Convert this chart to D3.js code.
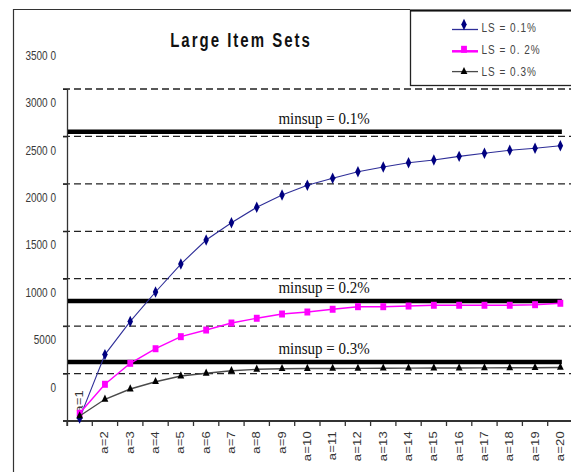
<!DOCTYPE html>
<html>
<head>
<meta charset="utf-8">
<script src="https://cdn.jsdelivr.net/npm/d3@7/dist/d3.min.js"></script>
<style>
  body { margin: 0; background: #fff; }
  svg { display: block; }
</style>
</head>
<body>
<div id="chartContainer"></div>
<script>
// categories along the x axis
const categories = ["a=1", "a=2", "a=3", "a=4", "a=5", "a=6", "a=7", "a=8", "a=9", "a=10",
  "a=11", "a=12", "a=13", "a=14", "a=15", "a=16", "a=17", "a=18", "a=19", "a=20"];

// series values
const ls01 = [300, 7000, 10500, 13600, 16550, 19080, 20900, 22530, 23820, 24850,
  25590, 26280, 26780, 27230, 27520, 27900, 28220, 28540, 28750, 29020];
const ls02 = [810, 3870, 6080, 7620, 8890, 9590, 10330, 10830, 11280, 11490,
  11780, 12050, 12050, 12120, 12200, 12200, 12200, 12200, 12260, 12410];
const ls03 = [530, 2290, 3370, 4140, 4740, 5030, 5300, 5450, 5510, 5530,
  5540, 5550, 5560, 5570, 5580, 5580, 5600, 5610, 5620, 5640];
const seriesNames = ["LS = 0.1%", "LS = 0. 2%", "LS = 0.3%"];

// minsup threshold lines
const minsupValues = [30500, 12650, 6220];
const minsupLabels = ["minsup = 0.1%", "minsup = 0.2%", "minsup = 0.3%"];

// y axis ticks and their (odd) labels
const yTickValues = [0, 5000, 10000, 15000, 20000, 25000, 30000, 35000];
const yTickLabels = ["0", "5000", "1000 0", "1500 0", "2000 0", "2500 0", "3000 0", "3500 0"];

const width = 571, height = 472;
const plot = { left: 67, right: 573, top: 89, bottom: 421 };
const font = "Arial, 'Liberation Sans', sans-serif";

const svg = d3.select("#chartContainer")
  .append("svg")
  .attr("width", width)
  .attr("height", height);

// Scales
const xScale = d3.scaleBand()
  .domain(categories)
  .range([plot.left, plot.right]);
const yScale = d3.scaleLinear()
  .domain([0, 35000])
  .range([plot.bottom, plot.top]);
const cx = (i) => xScale(categories[i]) + xScale.bandwidth() / 2;

// Outer frame
svg.append("path")
  .attr("d", "M13.5,472 V9.5 H410")
  .attr("fill", "none")
  .attr("stroke", "#333")
  .attr("stroke-width", 1.2);

// Title
svg.append("text")
  .attr("transform", "translate(241,47) scale(1,1.35)")
  .attr("text-anchor", "middle")
  .attr("font-family", font)
  .attr("font-weight", "bold")
  .attr("font-size", 15)
  .attr("letter-spacing", 2)
  .attr("fill", "#111")
  .text("Large Item Sets");

// Gridlines
svg.append("g")
  .selectAll("line")
  .data(yTickValues.slice(1))
  .enter()
  .append("line")
  .attr("x1", plot.left - 4)
  .attr("x2", width)
  .attr("y1", (d) => yScale(d))
  .attr("y2", (d) => yScale(d))
  .attr("stroke", "#222")
  .attr("stroke-width", 1.3)
  .attr("stroke-dasharray", "7,4");

// Y axis line
svg.append("g")
  .attr("transform", `translate(${plot.left},0)`)
  .call(d3.axisLeft(yScale).tickValues(yTickValues.slice(1)).tickSize(4).tickFormat("").tickSizeOuter(0))
  .call((g) => g.select(".domain").attr("stroke", "#333").attr("stroke-width", 1.3)
    .attr("d", `M0.5,${plot.top}V${plot.bottom + 5}`))
  .call((g) => g.selectAll(".tick line").attr("stroke", "#222"));

// Y labels (drawn shifted, as in the picture)
svg.append("g")
  .attr("transform", "translate(56,-34)")
  .call(d3.axisLeft(yScale).tickValues(yTickValues).tickSize(0).tickPadding(0)
    .tickFormat((d, i) => yTickLabels[i]))
  .call((g) => g.select(".domain").remove())
  .call((g) => g.selectAll("text")
    .attr("x", 0)
    .attr("dy", "0.32em")
    .attr("transform", "scale(1,1.3)")
    .attr("font-family", font)
    .attr("font-size", 10)
    .attr("fill", "#3a3a3a"));

// X axis
const xAxis = svg.append("g")
  .attr("transform", `translate(0,${plot.bottom})`)
  .call(d3.axisBottom(xScale).tickSize(0).tickPadding(0));
xAxis.select(".domain").remove();
xAxis.append("line")
  .attr("x1", plot.left - 4)
  .attr("x2", width)
  .attr("stroke", "#333")
  .attr("stroke-width", 2);
xAxis.selectAll(".boundary")
  .data(categories)
  .enter()
  .append("line")
  .attr("class", "boundary")
  .attr("x1", (d) => xScale(d))
  .attr("x2", (d) => xScale(d))
  .attr("y1", 0)
  .attr("y2", 5)
  .attr("stroke", "#333")
  .attr("stroke-width", 1.3);
xAxis.selectAll(".tick text")
  .attr("x", 0)
  .attr("y", 0)
  .attr("dy", "0.35em")
  .attr("text-anchor", "end")
  .attr("font-family", font)
  .attr("font-size", 10)
  .attr("letter-spacing", 0.2)
  .attr("fill", "#333")
  .attr("transform", (d, i) => i === 0
    ? "translate(0,-31) scale(1,1.3) rotate(-90)"
    : "translate(0,10) scale(1,1.3) rotate(-90)");

// Minsup lines
const minsupG = svg.append("g");
minsupG.selectAll("line")
  .data(minsupValues)
  .enter()
  .append("line")
  .attr("x1", plot.left + 1)
  .attr("x2", cx(categories.length - 1) + 1.5)
  .attr("y1", (d) => yScale(d))
  .attr("y2", (d) => yScale(d))
  .attr("stroke", "#000")
  .attr("stroke-width", 4.5);
minsupG.selectAll("text")
  .data(minsupValues)
  .enter()
  .append("text")
  .attr("transform", (d) => `translate(${xScale("a=9") + 9},${yScale(d) - 8}) scale(1,1.15)`)
  .attr("font-family", "'Liberation Serif', 'Times New Roman', serif")
  .attr("font-size", 15)
  .attr("fill", "#111")
  .text((d, i) => minsupLabels[i]);

// Series
const series = [
  { values: ls01, line: "#2e2e98", fill: "#000080", symbol: d3.symbolDiamond, size: 26, lineW: 1.1, legendDy: 2.5, markDy: -2.5 },
  { values: ls02, line: "#ff00ff", fill: "#ff00ff", symbol: d3.symbolSquare, size: 34, lineW: 1.4, legendDy: 2, markDy: 0 },
  { values: ls03, line: "#4a4a4a", fill: "#000", symbol: d3.symbolTriangle, size: 20, lineW: 1.4, legendDy: 0, markDy: 0 },
];

const line = d3.line()
  .x((d, i) => cx(i))
  .y((d) => yScale(d));

series.forEach((s) => {
  const g = svg.append("g");
  g.append("path")
    .datum(s.values)
    .attr("d", line)
    .attr("fill", "none")
    .attr("stroke", s.line)
    .attr("stroke-width", s.lineW);
  g.selectAll("path.mark")
    .data(s.values)
    .enter()
    .append("path")
    .attr("class", "mark")
    .attr("d", d3.symbol().type(s.symbol).size(s.size)())
    .attr("transform", (d, i) => `translate(${cx(i)},${yScale(d)}) scale(1,1.2)`)
    .attr("fill", s.fill);
});

// Legend
const legend = svg.append("g").attr("id", "legend");
legend.append("rect")
  .attr("x", 410.5)
  .attr("y", 10.5)
  .attr("width", 200)
  .attr("height", 75)
  .attr("fill", "#fff")
  .attr("stroke", "#222")
  .attr("stroke-width", 1.3);
legend.append("line")
  .attr("x1", 410)
  .attr("x2", width)
  .attr("y1", 10.5)
  .attr("y2", 10.5)
  .attr("stroke", "#111")
  .attr("stroke-width", 2.2);

series.forEach((s, i) => {
  const cy = 27 + 22.3 * i;
  const row = legend.append("g");
  row.append("line")
    .attr("x1", 452)
    .attr("x2", 478)
    .attr("y1", cy + s.legendDy)
    .attr("y2", cy + s.legendDy)
    .attr("stroke", s.line)
    .attr("stroke-width", i === 1 ? 2.5 : 1.3);
  row.append("path")
    .attr("d", d3.symbol().type(s.symbol).size(s.size)())
    .attr("transform", `translate(464,${cy + s.markDy}) scale(1,1.2)`)
    .attr("fill", s.fill);
  row.append("text")
    .attr("transform", `translate(481.5,${cy + 4.5}) scale(1,1.3)`)
    .attr("font-family", font)
    .attr("font-size", 10)
    .attr("letter-spacing", 1)
    .attr("fill", "#444")
    .text(seriesNames[i]);
});
</script>
</body>
</html>
